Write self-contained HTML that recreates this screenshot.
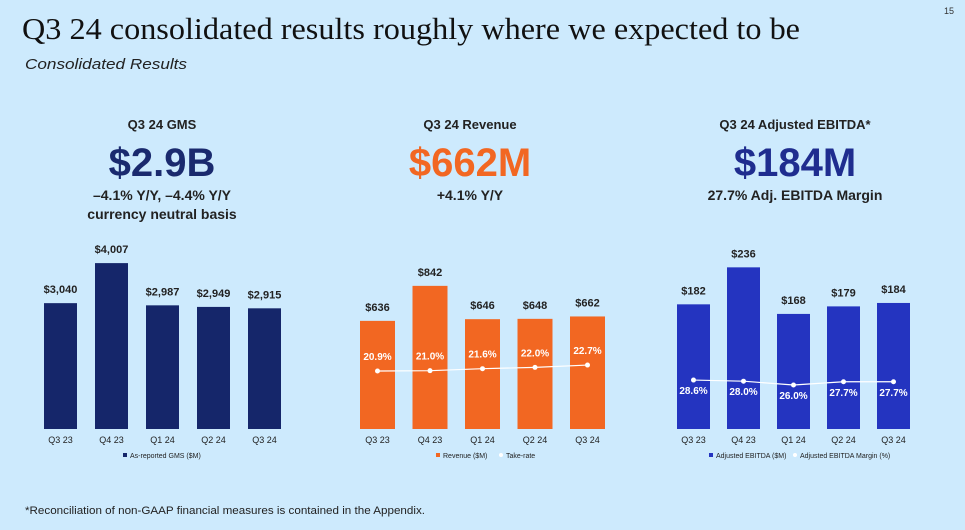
<!DOCTYPE html>
<html><head><meta charset="utf-8"><style>
body{margin:0;width:965px;height:530px;background:#cdeafd;overflow:hidden;font-family:"Liberation Sans",sans-serif;}
svg{position:absolute;left:0;top:0}
</style></head><body>
<svg id="s" width="965" height="530">
<text x="22" y="39" font-family="Liberation Serif,serif" font-size="31" fill="#111" textLength="778" lengthAdjust="spacingAndGlyphs">Q3 24 consolidated results roughly where we expected to be</text>
<text x="25" y="69" font-size="15" font-style="italic" fill="#222" textLength="162" lengthAdjust="spacingAndGlyphs">Consolidated Results</text>
<text x="944" y="14" font-size="9" fill="#333">15</text>
<g font-weight="bold" text-anchor="middle">
<text x="162" y="129" font-size="13" fill="#222">Q3 24 GMS</text>
<text x="162" y="176" font-size="40" fill="#1a2a6e">$2.9B</text>
<text x="162" y="200" font-size="14" fill="#222">–4.1% Y/Y, –4.4% Y/Y</text>
<text x="162" y="219" font-size="14" fill="#222">currency neutral basis</text>
<text x="470" y="129" font-size="13" fill="#222">Q3 24 Revenue</text>
<text x="470" y="176" font-size="40" fill="#f26722">$662M</text>
<text x="470" y="200" font-size="14" fill="#222">+4.1% Y/Y</text>
<text x="795" y="129" font-size="13" fill="#222">Q3 24 Adjusted EBITDA*</text>
<text x="795" y="176" font-size="40" fill="#1f2d8f">$184M</text>
<text x="795" y="200" font-size="14" fill="#222">27.7% Adj. EBITDA Margin</text>
</g>
<text x="25" y="514" font-size="11" fill="#222" textLength="400" lengthAdjust="spacingAndGlyphs">*Reconciliation of non-GAAP financial measures is contained in the Appendix.</text>
</svg>
<script>
const categories=["Q3 23","Q4 23","Q1 24","Q2 24","Q3 24"];
const gmsValues=[3040,4007,2987,2949,2915];
const revenueValues=[636,842,646,648,662];
const takeRates=[20.9,21.0,21.6,22.0,22.7];
const ebitdaValues=[182,236,168,179,184];
const ebitdaMargins=[28.6,28.0,26.0,27.7,27.7];
const NS="http://www.w3.org/2000/svg";
const svg=document.getElementById('s');
function el(t,a,txt){const e=document.createElementNS(NS,t);for(const k in a)e.setAttribute(k,a[k]);if(txt!==undefined)e.textContent=txt;svg.appendChild(e);return e;}
function chart(cfg){
  const base=429;
  const y=v=>base-v*cfg.scale;
  const x=i=>cfg.x0+i*cfg.step;
  cfg.vals.forEach((v,i)=>{
    const r=el('rect',{x:x(i),y:y(v),width:cfg.bw,height:v*cfg.scale,fill:cfg.color});
    
    
    const t=el('text',{x:x(i)+cfg.bw/2,y:y(v)-10,'text-anchor':'middle','font-size':11,'font-weight':'bold',fill:'#222'},cfg.fmt(v));
    
    
    const c=el('text',{x:x(i)+cfg.bw/2,y:443,'text-anchor':'middle','font-size':9,fill:'#222'},categories[i]);
    
    
  });
  if(cfg.line){
    const ly=v=>cfg.lyBase-(v-cfg.lMin)*cfg.lScale;
    const pts=cfg.line.map((v,i)=>(x(i)+cfg.bw/2)+','+ly(v)).join(' ');
    const pl=el('polyline',{points:pts,fill:'none',stroke:'#fff','stroke-width':1.2});
    
    
    cfg.line.forEach((v,i)=>{
      const d=el('circle',{cx:x(i)+cfg.bw/2,cy:ly(v),r:2.5,fill:'#fff'});
      
      
      const t=el('text',{x:x(i)+cfg.bw/2,y:ly(v)+cfg.lOff,'text-anchor':'middle','font-size':10,'font-weight':'bold',fill:'#fff'},v.toFixed(1)+'%');
      
      
    });
  }
  let lx=cfg.legX;
  cfg.legend.forEach((L,k)=>{
    const m=L.dot?el('circle',{cx:lx+2,cy:455,r:2,fill:'#fff'}):el('rect',{x:lx,y:453,width:4,height:4,fill:cfg.color});
    
    
    const t=el('text',{x:lx+7,y:458,'font-size':7,fill:'#222'},L.t);
    
    
    lx+=L.w;
  });
}
chart({id:'gms',vals:gmsValues,x0:44,step:51,bw:33,scale:0.0414,color:'#15266a',fmt:v=>'$'+v.toLocaleString('en-US'),legX:123,legend:[{t:'As-reported GMS ($M)',w:100}]});
chart({id:'revenue',vals:revenueValues,x0:360,step:52.5,bw:35,scale:0.17,color:'#f26722',fmt:v=>'$'+v,line:takeRates,lyBase:371,lMin:20.9,lScale:3.3,lOff:-11,legX:436,legend:[{t:'Revenue ($M)',w:63},{t:'Take-rate',dot:true,w:50}]});
chart({id:'ebitda',vals:ebitdaValues,x0:677,step:50,bw:33,scale:0.685,color:'#2434c0',fmt:v=>'$'+v,line:ebitdaMargins,lyBase:385,lMin:26.0,lScale:1.9,lOff:14,legX:709,legend:[{t:'Adjusted EBITDA ($M)',w:84},{t:'Adjusted EBITDA Margin (%)',dot:true,w:100}]});
</script>
</body></html>
